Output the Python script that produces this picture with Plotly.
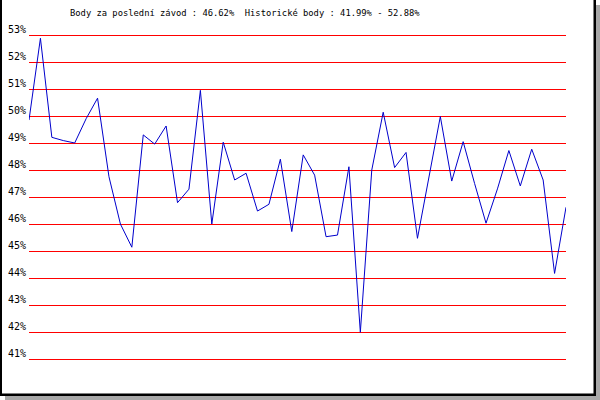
import plotly.graph_objects as go

# data
races = list(range(1, 49))
points = [49.85, 52.88, 49.21, 49.09, 49.0, 49.9, 50.66, 47.75, 46.0, 45.14,
          49.3, 48.96, 49.63, 46.79, 47.29, 50.95, 46.0, 49.03, 47.63, 47.88,
          46.48, 46.73, 48.4, 45.72, 48.56, 47.81, 45.53, 45.59, 48.12, 41.99,
          48.0, 50.14, 48.09, 48.65, 45.47, 47.73, 49.98, 47.59, 49.05, 47.5,
          46.03, 47.3, 48.72, 47.41, 48.77, 47.63, 44.17, 46.62]
tick_vals = list(range(41, 54))
tick_text = [f"{v}%" for v in tick_vals]
title_text = "Body za poslední závod : 46.62%  Historické body : 41.99% - 52.88%"

W, H = 600, 400
L, R, T, B = 29, 34, 28, 34
PW, PH = W - L - R, H - T - B

def px(x):
    return (x - L) / PW

def py(y):
    return (H - B - y) / PH

fig = go.Figure()
fig.add_trace(go.Scatter(x=races, y=points, mode="lines",
                         line=dict(color="#0000cc", width=1),
                         hoverinfo="skip", showlegend=False))

pad = 7 / 27
fig.update_layout(
    width=W, height=H, autosize=False,
    margin=dict(l=L, r=R, t=T, b=B, pad=0, autoexpand=False),
    paper_bgcolor="white", plot_bgcolor="rgba(0,0,0,0)",
    showlegend=False,
    xaxis=dict(range=[1, 48], showgrid=False, zeroline=False, automargin=False,
               showticklabels=False, showline=False, ticks=""),
    yaxis=dict(range=[41 - pad, 53 + pad], tickvals=tick_vals, ticktext=tick_text,
               showgrid=True, gridcolor="#ff0000", gridwidth=1, automargin=False,
               zeroline=False, showline=False, ticks="",
               ticklabelshift=-6, ticklabelstandoff=2,
               tickfont=dict(family="DejaVu Sans Mono", size=10, color="black")),
    font=dict(family="DejaVu Sans Mono", color="black"),
)

shapes = [
    # shadow
    dict(type="rect", x0=px(596), x1=px(600), y0=py(5), y1=py(400),
         fillcolor="#a8a8a8", line=dict(width=0)),
    dict(type="rect", x0=px(5), x1=px(600), y0=py(396), y1=py(400),
         fillcolor="#a8a8a8", line=dict(width=0)),
    # black frame
    dict(type="rect", x0=px(0), x1=px(2), y0=py(0), y1=py(396),
         fillcolor="black", line=dict(width=0)),
    dict(type="rect", x0=px(0), x1=px(596), y0=py(393.5), y1=py(396),
         fillcolor="black", line=dict(width=0)),
    dict(type="rect", x0=px(593.5), x1=px(596), y0=py(0), y1=py(396),
         fillcolor="black", line=dict(width=0)),
]
for s in shapes:
    s.update(xref="paper", yref="paper")
fig.update_layout(shapes=shapes)

fig.add_annotation(text=title_text, xref="paper", yref="paper",
                   x=px(244.5), y=py(13), xanchor="center", yanchor="middle",
                   showarrow=False,
                   font=dict(family="DejaVu Sans Mono", size=8.8, color="black"))

fig.write_html("out.html", config={"responsive": False, "displayModeBar": False},
               post_script="document.body.style.margin='0';document.body.style.overflow='hidden';")
